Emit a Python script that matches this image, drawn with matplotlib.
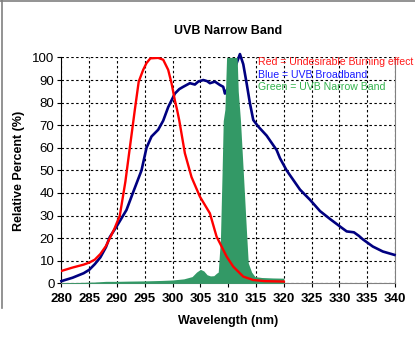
import matplotlib
matplotlib.use("Agg")
import matplotlib.pyplot as plt
from matplotlib.lines import Line2D
import numpy as np

plt.rcParams["font.family"] = ["Liberation Sans", "DejaVu Sans"]

# erythema (burning) action spectrum, % relative
red_nm = [280, 282, 284, 285, 286, 287, 288, 288.7, 289.5, 290.5, 291.5, 292.3,
          293.2, 293.9, 294.7, 295.3, 296.0, 297.4, 298.3, 299.2, 299.8, 300.4,
          300.8, 301.2, 302.2, 303.4, 304.9, 306.7, 307.9, 308.5, 309.7, 310.9,
          312.7, 314.5, 316.5, 320]
red_val = [5.5, 7, 8.3, 9.2, 10.5, 13, 16.5, 20, 24, 30, 45, 60,
           76.8, 89.3, 94.5, 97.5, 99.6, 99.8, 99, 94.5, 88.6, 81,
           76.8, 72, 57.6, 47, 38.4, 31, 20.7, 17.8, 11.9, 7.4,
           3, 1.5, 1, 0.8]

# broadband UVB lamp
blue_nm = [280, 282, 284, 285, 286, 287, 288, 288.7, 290, 291.7, 293, 294.4,
           295.3, 296.2, 297.4, 298.3, 299.2, 300.4, 301.2, 301.9, 303.1, 304,
           304.6, 305.5, 306.2, 306.7, 307.6, 308.5, 309.1, 309.4, 310.3, 311.3,
           312.1, 312.7, 313.3, 313.9, 314.5, 315.4, 316.9, 318.7, 319.3, 320.5,
           322.9, 324.7, 326.5, 328.3, 330.3, 331.3, 332.6, 333.5, 334.2, 336,
           337.8, 339.9]
blue_val = [1.0, 2.5, 4.5, 6, 8.5, 11.5, 16, 20.5, 25.5, 32.5, 41, 50,
            60, 65, 68, 72, 78, 84, 86, 87, 88.6, 88,
            89.3, 90, 89.5, 88.6, 89.3, 87.8, 87, 84, 88, 96,
            101.5, 97, 88.6, 79.7, 72.3, 69.4, 65.4, 59, 55.4, 50,
            41.5, 37, 32, 28.5, 24.8, 23, 22.6, 21, 19.5, 16.3,
            14.1, 12.6]

# narrow band (311 nm) lamp
green_nm = [280, 283, 286, 288, 290, 292, 295, 298, 300, 302, 303.5, 304.3,
            305.0, 305.6, 306.2, 306.8, 307.4, 307.9, 308.2, 308.6, 308.9, 309.1,
            309.4, 309.7, 311.6, 311.8, 312.2, 312.8, 313.3, 313.6, 314.2, 314.8,
            316, 318, 320]
green_val = [0.3, 0.4, 0.6, 0.9, 0.9, 1.0, 1.1, 1.3, 1.5, 2.0, 3, 5,
             6.2, 5.5, 3.8, 3.3, 3.4, 4.5, 5, 20, 50, 72,
             77, 100, 100, 85, 72, 45, 22, 9, 5, 3,
             2.6, 2.4, 2.3]

legend_lines = [("Red = Undesirable Burning effect", "#ff1a1a"),
                ("Blue = UVB Broadband", "#1a1aff"),
                ("Green = UVB Narrow Band", "#33b34d")]

fig = plt.figure(figsize=(4.15, 3.46), dpi=100)
ax = fig.add_axes([0.148, 0.181, 0.804, 0.653])

ax.plot(blue_nm, blue_val, color="#000080", lw=1.9, clip_on=False, zorder=3)
ax.fill_between(green_nm, 0, green_val, color="#339966", lw=0, zorder=4)
ax.plot(red_nm, red_val, color="#ff0000", lw=1.7, zorder=5)

ax.set_xlim(280, 340)
ax.set_ylim(0, 100)
ax.set_xticks(np.arange(280, 341, 5))
ax.set_yticks(np.arange(0, 101, 10))
ax.grid(True, color="black", lw=0.8, linestyle=(0, (2.2, 2.2)))
ax.set_axisbelow(True)

for lbl in ax.get_xticklabels():
    lbl.set_fontweight("bold")
ax.tick_params(axis="x", labelsize=9.5, length=3, width=0.8, pad=4)
ax.tick_params(axis="y", labelsize=9.5, length=3, width=0.8, pad=2)

ax.spines["top"].set_visible(False)
ax.spines["left"].set_color("black")
ax.spines["bottom"].set_color("#808080")
ax.spines["right"].set_color("#808080")

ax.set_title("UVB Narrow Band", fontsize=9, fontweight="bold", pad=17)
ax.set_xlabel("Wavelength (nm)", fontsize=9, fontweight="bold", labelpad=7)
ax.set_ylabel("Relative Percent (%)", fontsize=9, fontweight="bold", labelpad=5)

for i, (txt, col) in enumerate(legend_lines):
    ax.text(315.4, 97.8 - i * 5.5, txt, color=col, fontsize=7.6,
            ha="left", va="center", clip_on=False, zorder=6)

# outer frame (top and left edges only)
fig.add_artist(Line2D([0, 1], [0.997, 0.997], color="#808080", lw=1.2))
fig.add_artist(Line2D([0.004, 0.004], [0.11, 1.0], color="#808080", lw=1.2))

fig.savefig("out.png", dpi=100)
